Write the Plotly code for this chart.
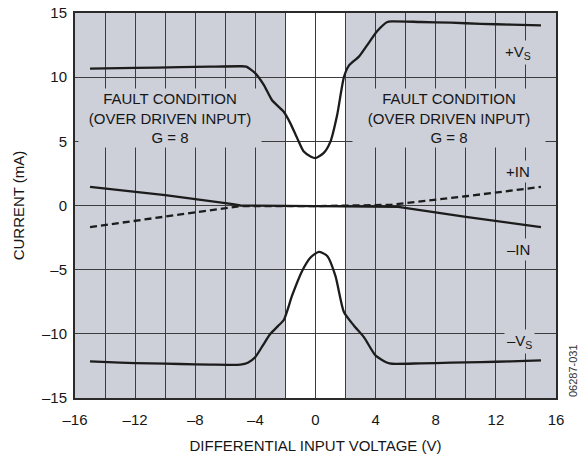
import plotly.graph_objects as go

# Supply current (+VS / -VS) versus differential input voltage, G = 8
vs_pos_x = [-15, -12, -9, -7, -5, -4.6, -4, -3.44, -2.89, -2.11, -1.67, -1.22, -0.78, -0.3, 0,
            0.55, 1, 1.44, 1.89, 2.22, 2.89, 3.44, 4.11, 4.78, 5.1, 7, 9, 11, 13, 15]
vs_pos_y = [10.67, 10.72, 10.78, 10.82, 10.85, 10.82, 10.3, 9.4, 8.2, 7.3, 6.4, 5.25, 4.2, 3.8, 3.7,
            4.1, 5.0, 7.05, 10.0, 10.9, 11.6, 12.5, 13.6, 14.3, 14.35, 14.3, 14.25, 14.15, 14.1, 14.03]

vs_neg_x = [-15, -13, -11, -9, -7, -5, -4.5, -4, -3.5, -3, -2.5, -2.1, -1.56, -0.89, -0.33, 0.22,
            0.78, 1.33, 1.89, 2.55, 3.22, 4, 4.78, 5.1, 7, 9, 11, 13, 15]
vs_neg_y = [-12.15, -12.25, -12.3, -12.35, -12.4, -12.4, -12.25, -11.8, -10.9, -10.0, -9.4, -8.9,
            -7.03, -5.1, -4.05, -3.62, -3.93, -5.5, -8.3, -9.35, -10.26, -11.7, -12.25, -12.33,
            -12.3, -12.25, -12.2, -12.15, -12.07]

# Input pin currents
in_neg_x = [-15, -10, -5.5, -5, 0, 5, 5.5, 10, 15]
in_neg_y = [1.45, 0.8, 0.1, 0.0, -0.05, -0.05, -0.1, -0.88, -1.68]

in_pos_x = [-15, -10, -5, 0, 5, 10, 15]
in_pos_y = [-1.68, -0.85, -0.05, -0.05, 0.05, 0.72, 1.45]

x_ticks = [-16, -12, -8, -4, 0, 4, 8, 12, 16]
y_ticks = [-15, -10, -5, 0, 5, 10, 15]

FAULT_BG = "#cdd0d9"
INK = "#1c1c1c"
TEXT = "#161616"
GRID = "#3c3c3c"
FONT = "Liberation Sans, Arial, sans-serif"

fig = go.Figure()

solid = dict(color=INK, width=2.3, shape="spline", smoothing=0.6)
fig.add_trace(go.Scatter(x=vs_pos_x, y=vs_pos_y, mode="lines", line=solid))
fig.add_trace(go.Scatter(x=vs_neg_x, y=vs_neg_y, mode="lines", line=solid))
fig.add_trace(go.Scatter(x=in_neg_x, y=in_neg_y, mode="lines", line=dict(color=INK, width=2.3)))
fig.add_trace(go.Scatter(x=in_pos_x, y=in_pos_y, mode="lines",
                         line=dict(color=INK, width=2.3, dash="7px,4px")))

# Normal-operation region (|VDIFF| < 2 V) shown unshaded
fig.add_shape(type="rect", xref="x", yref="y", x0=-2, x1=2, y0=-15, y1=15,
              fillcolor="white", line_width=0, layer="below")

fault_text = "FAULT CONDITION<br>(OVER DRIVEN INPUT)<br>G = 8"
for cx, w in ((-9.7, 180), (8.9, 190)):
    fig.add_annotation(x=cx, y=6.8, xref="x", yref="y", text=fault_text, showarrow=False,
                       font=dict(family=FONT, size=15, color=TEXT), bgcolor=FAULT_BG,
                       width=w, height=56, borderpad=1, align="center")

labels = [
    (13.5, 11.9, "+V<sub>S</sub>"),
    (13.5, 2.66, "+IN"),
    (13.5, -3.4, "–IN"),
    (13.6, -10.6, "–V<sub>S</sub>"),
]
for lx, ly, txt in labels:
    fig.add_annotation(x=lx, y=ly, xref="x", yref="y", text=txt, showarrow=False,
                       font=dict(family=FONT, size=15, color=TEXT), bgcolor=FAULT_BG,
                       borderpad=2)

fig.add_annotation(x=(573 - 75) / 481, y=(454 - 56 - 371) / 385, xref="paper", yref="paper",
                   xanchor="center", yanchor="middle",
                   text="06287-031", showarrow=False, textangle=-90,
                   font=dict(family=FONT, size=11, color="#333"))

fig.update_layout(
    width=578, height=454,
    margin=dict(l=75, r=22, t=13, b=56, autoexpand=False),
    paper_bgcolor="white", plot_bgcolor=FAULT_BG,
    showlegend=False,
    font=dict(family=FONT, size=15, color=TEXT),
)
fig.update_xaxes(
    range=[-16, 16], tickvals=x_ticks, ticktext=[f"{v}".replace("-", "–") for v in x_ticks],
    showgrid=True, gridcolor=GRID, gridwidth=1,
    minor=dict(dtick=2, tick0=0, showgrid=True, gridcolor=GRID, gridwidth=1),
    zeroline=False, showline=True, linecolor="#2a2a2a", linewidth=2, mirror=True,
    ticks="", tickfont=dict(size=15), ticklabelstandoff=7, automargin=False,
    title=dict(text="DIFFERENTIAL INPUT VOLTAGE (V)", font=dict(size=15), standoff=17),
)
fig.update_yaxes(
    range=[-15, 15], tickvals=y_ticks, ticktext=[f"{v}".replace("-", "–") for v in y_ticks],
    showgrid=True, gridcolor=GRID, gridwidth=1,
    zeroline=False, showline=True, linecolor="#2a2a2a", linewidth=2, mirror=True,
    ticks="", tickfont=dict(size=15), automargin=False, ticklabelstandoff=3,
    title=dict(text="CURRENT (mA)", font=dict(size=15), standoff=14),
)

fig.write_html("out.html")
